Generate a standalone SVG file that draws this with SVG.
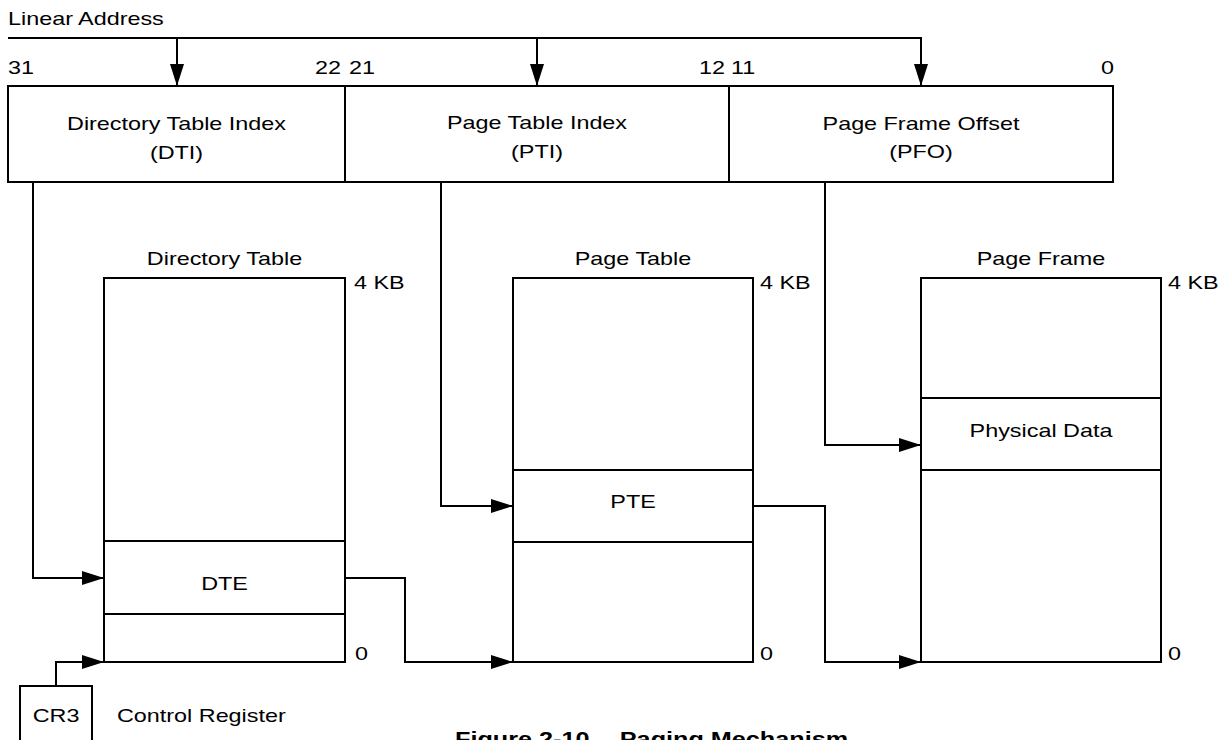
<svg xmlns="http://www.w3.org/2000/svg" width="1230" height="740" viewBox="0 0 1230 740">
<style>
  text { font-family: "Liberation Sans", Arial, sans-serif; font-size: 19px; fill: #000; }
  .m { text-anchor: middle; }
  .e { text-anchor: end; }
  .b { font-weight: bold; font-size: 20.5px; }
  .box { fill: #fff; stroke: #000; stroke-width: 2; }
  .ln { fill: none; stroke: #000; stroke-width: 2; }
  .wire { fill: none; stroke: #000; stroke-width: 2; marker-end: url(#ah); }
</style>
<defs>
  <marker id="ah" markerUnits="userSpaceOnUse" markerWidth="22" markerHeight="14" refX="22" refY="7" orient="auto">
    <path d="M0,0 L22,7 L0,14 z" fill="#000"/>
  </marker>
</defs>
<rect width="1230" height="740" fill="#fff"/>

<g id="linear-address">
  <text transform="translate(8,25) scale(1.23,1)">Linear Address</text>
  <text transform="translate(8,74) scale(1.23,1)">31</text>
  <text class="e" transform="translate(341,74) scale(1.23,1)">22</text>
  <text transform="translate(349,74) scale(1.23,1)">21</text>
  <text class="e" transform="translate(725,74) scale(1.23,1)">12</text>
  <text transform="translate(731,74) scale(1.23,1)">11</text>
  <text class="e" transform="translate(1114,74) scale(1.23,1)">0</text>
</g>

<g id="dti">
  <rect class="box" x="8" y="86" width="337" height="96"/>
  <text class="m" transform="translate(176.5,130) scale(1.23,1)">Directory Table Index</text>
  <text class="m" transform="translate(176.5,159) scale(1.23,1)">(DTI)</text>
</g>
<g id="pti">
  <rect class="box" x="345" y="86" width="384" height="96"/>
  <text class="m" transform="translate(537,129) scale(1.23,1)">Page Table Index</text>
  <text class="m" transform="translate(537,158) scale(1.23,1)">(PTI)</text>
</g>
<g id="pfo">
  <rect class="box" x="729" y="86" width="384" height="96"/>
  <text class="m" transform="translate(921,130) scale(1.23,1)">Page Frame Offset</text>
  <text class="m" transform="translate(921,158) scale(1.23,1)">(PFO)</text>
</g>

<g id="directory-table">
  <text class="m" transform="translate(224.5,265) scale(1.23,1)">Directory Table</text>
  <rect class="box" x="104" y="278" width="241" height="384"/>
  <line class="ln" x1="104" y1="541" x2="345" y2="541"/>
  <line class="ln" x1="104" y1="614" x2="345" y2="614"/>
  <text class="m" transform="translate(224.5,590) scale(1.23,1)">DTE</text>
  <text transform="translate(354,289) scale(1.23,1)">4 KB</text>
  <text transform="translate(355,660) scale(1.23,1)">0</text>
</g>

<g id="page-table">
  <text class="m" transform="translate(633,265) scale(1.23,1)">Page Table</text>
  <rect class="box" x="513" y="278" width="240" height="384"/>
  <line class="ln" x1="513" y1="470" x2="753" y2="470"/>
  <line class="ln" x1="513" y1="542" x2="753" y2="542"/>
  <text class="m" transform="translate(633,508) scale(1.23,1)">PTE</text>
  <text transform="translate(760,289) scale(1.23,1)">4 KB</text>
  <text transform="translate(760,660) scale(1.23,1)">0</text>
</g>

<g id="page-frame">
  <text class="m" transform="translate(1041,265) scale(1.23,1)">Page Frame</text>
  <rect class="box" x="921" y="278" width="240" height="384"/>
  <line class="ln" x1="921" y1="398" x2="1161" y2="398"/>
  <line class="ln" x1="921" y1="470" x2="1161" y2="470"/>
  <text class="m" transform="translate(1041,437) scale(1.23,1)">Physical Data</text>
  <text transform="translate(1168,289) scale(1.23,1)">4 KB</text>
  <text transform="translate(1168,660) scale(1.23,1)">0</text>
</g>

<g id="cr3">
  <rect class="box" x="20" y="686" width="72" height="70"/>
  <text class="m" transform="translate(56,722) scale(1.23,1)">CR3</text>
  <text transform="translate(117,722) scale(1.23,1)">Control Register</text>
</g>

<g id="caption">
  <text class="b" transform="translate(455,746) scale(1.23,1)">Figure 2-10.<tspan x="134">Paging Mechanism</tspan></text>
</g>

<g id="connectors">
  <polyline class="ln" points="8,38 921,38"/>
  <line class="wire" x1="177" y1="38" x2="177" y2="86"/>
  <line class="wire" x1="537" y1="38" x2="537" y2="86"/>
  <line class="wire" x1="921" y1="37" x2="921" y2="86"/>
  <polyline class="wire" points="33,182 33,578 104,578"/>
  <polyline class="wire" points="441,182 441,506 513,506"/>
  <polyline class="wire" points="825,182 825,445 921,445"/>
  <polyline class="wire" points="345,578 405,578 405,662 513,662"/>
  <polyline class="wire" points="753,506 825,506 825,662 921,662"/>
  <polyline class="wire" points="56,686 56,662 104,662"/>
</g>
</svg>
